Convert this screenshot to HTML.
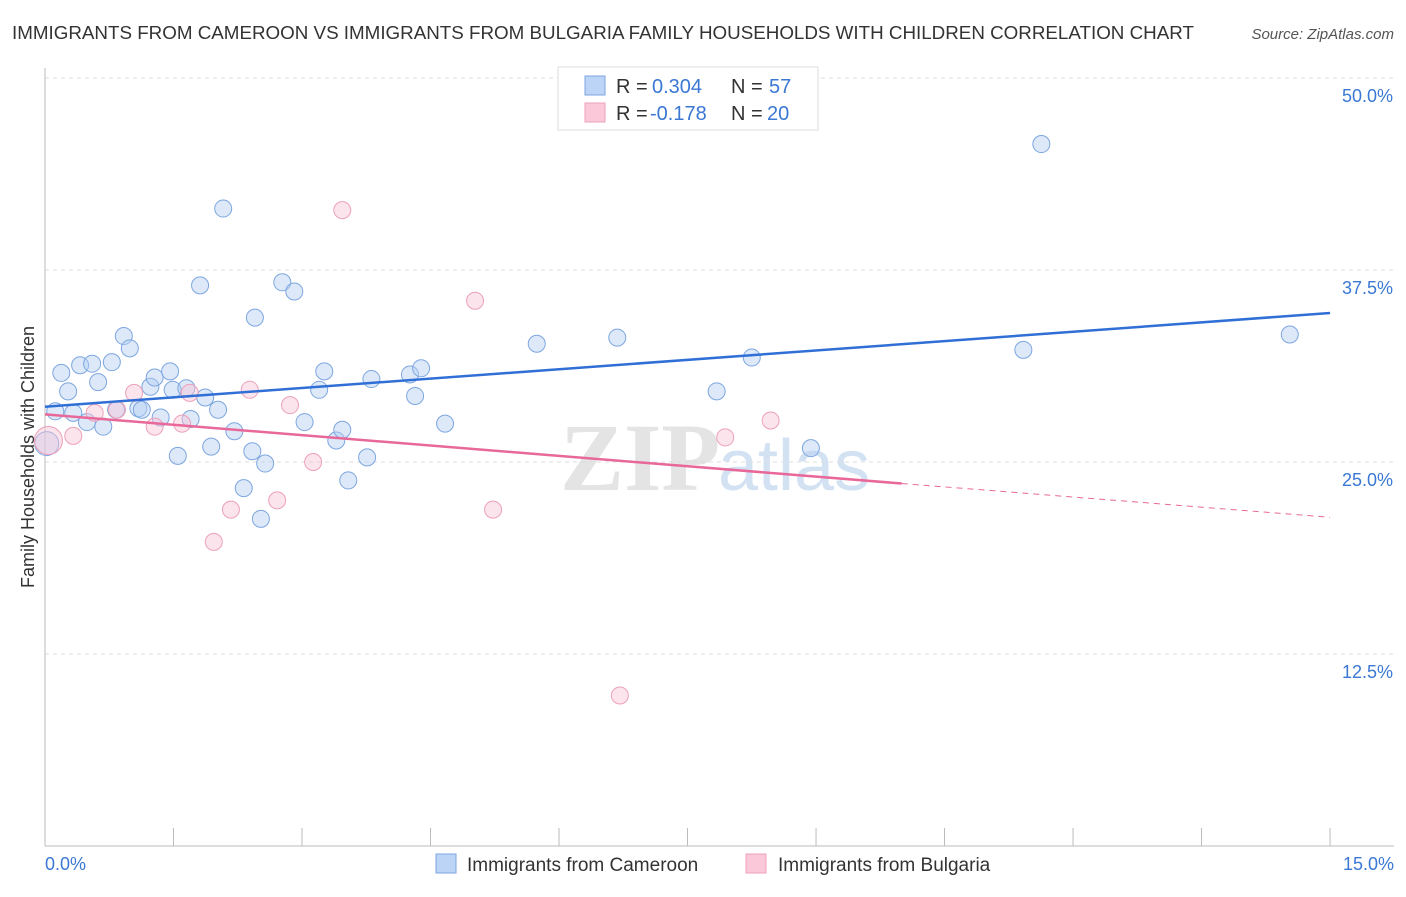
<!DOCTYPE html>
<html><head><meta charset="utf-8"><style>
body{margin:0;background:#fff;font-family:"Liberation Sans",sans-serif;}
</style></head><body>
<svg width="1406" height="892" xmlns="http://www.w3.org/2000/svg" id="chart">
<text x="12" y="39" font-size="18.8" fill="#333">IMMIGRANTS FROM CAMEROON VS IMMIGRANTS FROM BULGARIA FAMILY HOUSEHOLDS WITH CHILDREN CORRELATION CHART</text>
<text x="1394" y="39" font-size="15" fill="#555" font-style="italic" text-anchor="end">Source: ZipAtlas.com</text>
<text x="720" y="490" font-size="96" fill="#e4e4e4" text-anchor="end" font-family="Liberation Serif" font-weight="bold">ZIP</text>
<text x="718" y="490" font-size="72" fill="#d3e2f3">atlas</text>
<g id="grid"></g><g id="axes"></g><g id="marks"></g>
<text transform="translate(34,457) rotate(-90)" font-size="18" fill="#333" text-anchor="middle">Family Households with Children</text>
<g>
<rect x="558" y="67" width="260" height="63" fill="#fff" stroke="#ddd"/>
<rect x="585" y="76" width="20" height="19" fill="#bcd4f6" stroke="#7da6e0"/>
<rect x="585" y="103" width="20" height="19" fill="#fac8d8" stroke="#eda0bb"/>
<text x="616" y="93" font-size="20" fill="#333">R =</text>
<text x="652" y="93" font-size="20" fill="#3a78d4">0.304</text>
<text x="731" y="93" font-size="20" fill="#333">N =</text>
<text x="769" y="93" font-size="20" fill="#3a78d4">57</text>
<text x="616" y="120" font-size="20" fill="#333">R =</text>
<text x="650" y="120" font-size="20" fill="#3a78d4">-0.178</text>
<text x="731" y="120" font-size="20" fill="#333">N =</text>
<text x="767" y="120" font-size="20" fill="#3a78d4">20</text>
</g>
<g>
<rect x="436" y="854" width="20" height="19" fill="#bcd4f6" stroke="#7da6e0"/>
<text x="467" y="871" font-size="19" fill="#333">Immigrants from Cameroon</text>
<rect x="746" y="854" width="20" height="19" fill="#fac8d8" stroke="#eda0bb"/>
<text x="778" y="871" font-size="19" fill="#333">Immigrants from Bulgaria</text>
</g>
</svg>
<script>
const yTicks=[12.5,25,37.5,50];
const yTickLabels=["12.5%","25.0%","37.5%","50.0%"];
const xTickVals=[0,1.5,3,4.5,6,7.5,9,10.5,12,13.5,15];
const xEndLabels=["0.0%","15.0%"];
const blueX=[0.12,0.19,0.27,0.33,0.41,0.49,0.55,0.62,0.68,0.78,0.83,0.92,0.99,1.09,1.13,1.23,1.28,1.35,1.46,1.49,1.55,1.65,1.70,1.81,1.87,1.94,2.02,2.08,2.21,2.32,2.42,2.45,2.52,2.57,2.77,2.91,3.03,3.20,3.26,3.40,3.47,3.54,3.76,3.81,4.26,4.32,4.39,4.67,5.74,6.68,7.84,8.25,8.94,11.42,11.63,14.53,0.02];
const blueY=[28.3,30.8,29.6,28.2,31.3,27.6,31.4,30.2,27.3,31.5,28.4,33.2,32.4,28.5,28.4,29.9,30.5,27.9,30.9,29.7,25.4,29.8,27.8,36.5,29.2,26.0,28.4,41.5,27.0,23.3,25.7,34.4,21.3,24.9,36.7,36.1,27.6,29.7,30.9,26.4,27.1,23.8,25.3,30.4,30.7,29.3,31.1,27.5,32.7,33.1,29.6,31.8,25.9,32.3,45.7,33.3,26.2];
const pinkX=[0.04,0.58,0.33,0.84,1.04,1.28,1.60,1.69,1.97,2.17,2.39,2.71,2.86,3.13,3.47,5.02,5.23,6.71,7.94,8.47];
const pinkY=[26.4,28.2,26.7,28.4,29.5,27.3,27.5,29.5,19.8,21.9,29.7,22.5,28.7,25.0,41.4,35.5,21.9,9.8,26.6,27.7];
const blueTrend=[28.6,34.7];
const pinkTrend=[28.1,23.6,21.4];
const pinkTrendX=[0,10,15];
const NS="http://www.w3.org/2000/svg";
const X=v=>45+v*85.67, Y=v=>846-v*15.36;
function mk(t,a,p){const e=document.createElementNS(NS,t);for(const k in a)e.setAttribute(k,a[k]);p.appendChild(e);return e;}
const grid=document.getElementById('grid'),axes=document.getElementById('axes'),marks=document.getElementById('marks');
yTicks.forEach((v,i)=>{
 const l=mk('line',{x1:45,x2:1394,y1:Y(v),y2:Y(v),stroke:'#ddd','stroke-dasharray':'4,4'},grid);
 
 
 const t=mk('text',{x:1393,y:Y(v)+24,'font-size':18,fill:'#3a78d4','text-anchor':'end'},axes);
 t.textContent=yTickLabels[i];
 
 
});
mk('line',{x1:45,x2:45,y1:68,y2:846,stroke:'#bbb'},axes);
mk('line',{x1:45,x2:1394,y1:846,y2:846,stroke:'#bbb'},axes);
xTickVals.forEach(v=>{const l=mk('line',{x1:X(v),x2:X(v),y1:828,y2:846,stroke:'#bbb'},axes);
 
 });
[[0,'start'],[15,'end']].forEach((d,i)=>{const t=mk('text',{x:X(d[0])+(i?64:0),y:870,'font-size':18,fill:'#3a78d4','text-anchor':d[1]},axes);t.textContent=xEndLabels[i];
 
 });
blueX.forEach((x,i)=>{const r=(i===blueX.length-1)?12:8.5;const c=mk('circle',{cx:X(x),cy:Y(blueY[i]),r:r,fill:'rgba(180,206,242,0.45)',stroke:'#7da6e0','stroke-width':1},marks);
 
 });
pinkX.forEach((x,i)=>{const r=i===0?14:8.5;const c=mk('circle',{cx:X(x),cy:Y(pinkY[i]),r:r,fill:'rgba(248,195,214,0.45)',stroke:'#eda0bb','stroke-width':1},marks);
 
 });
const bl=mk('line',{x1:X(0),y1:Y(blueTrend[0]),x2:X(15),y2:Y(blueTrend[1]),stroke:'#2f6fd6','stroke-width':2.5},marks);


const pl=mk('line',{x1:X(pinkTrendX[0]),y1:Y(pinkTrend[0]),x2:X(pinkTrendX[1]),y2:Y(pinkTrend[1]),stroke:'#e8689a','stroke-width':2.5},marks);


const pd=mk('line',{x1:X(pinkTrendX[1]),y1:Y(pinkTrend[1]),x2:X(pinkTrendX[2]),y2:Y(pinkTrend[2]),stroke:'#e8689a','stroke-width':1,'stroke-dasharray':'6,5'},marks);


</script>
</body></html>
